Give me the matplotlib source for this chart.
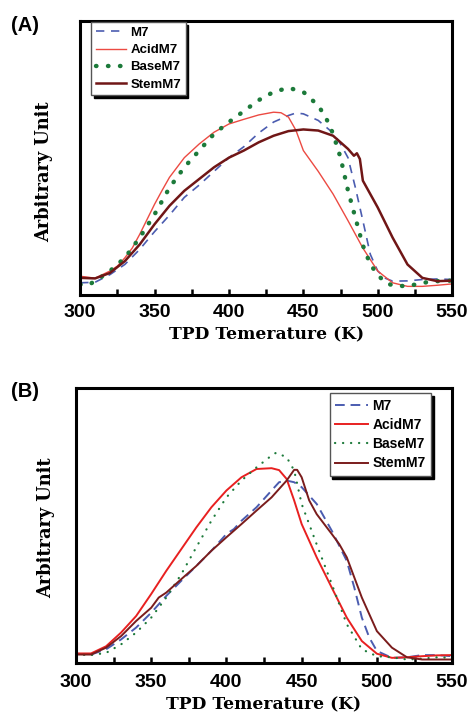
import numpy as np
import matplotlib.pyplot as plt

# panel A data (K, arbitrary)
tA_m7 = [300, 310, 320, 330, 340, 350, 360, 370, 380, 390, 400, 410, 420, 430, 440, 445, 450, 460, 470, 475, 480, 485, 490, 495, 500, 505, 510, 520, 530, 540, 550]
yA_m7 = [4.3, 4.5, 7.3, 11, 16.5, 23, 29, 35.5, 40, 45, 50, 54, 59, 63, 65.4, 66.3, 66, 63.6, 59, 55, 50, 39, 27, 14.7, 8.6, 6, 4.9, 5, 5.5, 5.7, 5.5]
tA_acid = [300, 310, 320, 325, 330, 335, 340, 345, 350, 355, 360, 370, 380, 390, 400, 410, 420, 430, 435, 440, 445, 450, 460, 470, 480, 490, 500, 510, 520, 530, 540, 550]
yA_acid = [6.7, 6, 8.6, 10.4, 13.4, 17, 22, 27.5, 33, 38, 42.8, 50, 55, 59.3, 62.3, 64, 65.6, 66.6, 66.4, 64.8, 60, 52.6, 45, 36.7, 27, 17, 8.6, 4.3, 3, 3, 3.4, 3.9]
tA_base = [300, 305, 310, 320, 330, 340, 350, 360, 370, 380, 390, 400, 410, 420, 430, 440, 450, 460, 465, 470, 475, 480, 485, 490, 495, 500, 505, 510, 520, 530, 540, 550]
yA_base = [3.7, 3.4, 4.9, 8.6, 13.4, 20.8, 29.3, 39, 46.5, 52.6, 58.7, 63, 67, 71, 74, 75.5, 74, 69, 64.8, 58.7, 50, 38, 28, 18, 11, 7.3, 4.3, 3.4, 3, 4.3, 4.9, 5.1]
tA_stem = [300, 310, 320, 330, 340, 350, 360, 370, 380, 390, 400, 410, 420, 430, 440, 450, 460, 470, 475, 480, 484, 486, 488, 490, 500, 510, 520, 530, 540, 550]
yA_stem = [6.1, 5.9, 7.9, 12.2, 18.3, 25.7, 32.4, 37.9, 42.2, 46.5, 50, 52.6, 55.6, 58, 59.7, 60.3, 59.9, 58, 55.6, 53.2, 50.7, 51.6, 49.5, 41.6, 31.8, 20.8, 11, 6.1, 4.9, 5.1]

# panel B data
tB_m7 = [300, 310, 320, 330, 340, 350, 360, 370, 380, 390, 400, 405, 410, 420, 430, 435, 440, 445, 450, 460, 470, 480, 485, 490, 495, 500, 510, 520, 530, 540, 550]
yB_m7 = [3.3, 3, 4.9, 8.5, 12.8, 18.2, 24.3, 29.8, 35.2, 40.7, 46.8, 48.6, 51.6, 56.5, 62.6, 65.6, 66.2, 65.6, 63.8, 57.7, 48, 37, 27.3, 16.4, 9.1, 4.3, 1.8, 2, 2.8, 2.8, 2.4]
tB_acid = [300, 310, 320, 330, 340, 350, 360, 370, 380, 390, 400, 410, 420, 430, 435, 440, 445, 450, 460, 470, 480, 490, 500, 510, 520, 530, 540, 550]
yB_acid = [3.4, 3.4, 6, 11, 17, 25, 33.4, 41.3, 49.2, 56.5, 62.6, 67.4, 70.4, 70.7, 70, 66.8, 59, 50.4, 38.3, 27.3, 16.4, 7.9, 3.3, 1.8, 2, 2.4, 2.7, 2.8]
tB_base = [300, 310, 320, 330, 340, 350, 360, 370, 380, 390, 400, 410, 420, 430, 433, 440, 445, 450, 460, 470, 480, 490, 500, 510, 520, 530, 540, 550]
yB_base = [3, 2.8, 3.6, 6.7, 11, 16.4, 23.7, 32.2, 42, 51.6, 60.1, 66.2, 71, 75.3, 76.3, 74.7, 69.9, 57.7, 43, 28.6, 14, 4.9, 2.4, 2, 1.2, 1.5, 2, 1.8]
tB_stem = [300, 310, 320, 330, 340, 350, 355, 360, 370, 380, 390, 400, 410, 420, 430, 440, 445, 447, 450, 455, 460, 470, 475, 480, 490, 500, 510, 520, 530, 540, 550]
yB_stem = [3, 3, 5.5, 9.7, 15.2, 20, 23.7, 25.5, 30.4, 35.2, 40.7, 45.6, 50.4, 55.3, 60.1, 66.2, 70.1, 70.1, 67.4, 59, 54, 46.8, 43.1, 38.3, 23.7, 11.5, 5.5, 2, 1.2, 1.2, 1.2]

xticks = [300, 350, 400, 450, 500, 550]
xlabel = "TPD Temerature (K)"
ylabel = "Arbitrary Unit"

fig = plt.figure(figsize=(4.69, 7.15), dpi=100)
axA = fig.add_axes([0.171, 0.588, 0.793, 0.383])
axB = fig.add_axes([0.162, 0.073, 0.802, 0.385])

axA.plot(tA_m7, yA_m7, color="#4b5cb0", lw=1.2, ls=(0, (5, 4)), label="M7")
axA.plot(tA_acid, yA_acid, color="#ec4a42", lw=1.0, label="AcidM7")
axA.plot(tA_base, yA_base, color="#1c7a3a", lw=3.2, ls=(0, (0.1, 2.6)),
         dash_capstyle="round", label="BaseM7")
axA.plot(tA_stem, yA_stem, color="#701616", lw=1.8, label="StemM7")

axB.plot(tB_m7, yB_m7, color="#4b5cb0", lw=1.4, ls=(0, (5, 3)), label="M7")
axB.plot(tB_acid, yB_acid, color="#e82020", lw=1.4, label="AcidM7")
axB.plot(tB_base, yB_base, color="#1c7a3a", lw=1.6, ls=(0, (0.1, 3.5)),
         dash_capstyle="round", label="BaseM7")
axB.plot(tB_stem, yB_stem, color="#7a1c1c", lw=1.4, label="StemM7")

for ax, tpad, ylx, yly in ((axA, 6.5, -0.073, 0.45), (axB, 8, -0.056, 0.49)):
    ax.set_xlim(300, 550)
    ax.set_ylim(0, 100)
    ax.set_yticks([])
    ax.set_xticks(xticks)
    ax.set_xticks(np.arange(325, 550, 50), minor=True)
    ax.tick_params(axis="x", which="both", direction="in", width=1.8)
    ax.tick_params(axis="x", which="major", length=4, pad=tpad, labelsize=14)
    ax.tick_params(axis="x", which="minor", length=4)
    for lab in ax.get_xticklabels():
        lab.set_fontweight("bold")
        lab.set_family("Liberation Sans")
    for sp in ax.spines.values():
        sp.set_linewidth(2.2)
    ax.set_xlabel(xlabel, family="DejaVu Serif", fontweight="bold", fontsize=12.3, labelpad=4)
    ax.set_ylabel(ylabel, family="DejaVu Serif", fontweight="bold", fontsize=12.8)
    ax.yaxis.set_label_coords(ylx, yly)

legA = axA.legend(loc="upper left", bbox_to_anchor=(0.03, 0.995), borderaxespad=0,
                  fancybox=False, edgecolor="#555555", shadow={"color": "black", "alpha": 1},
                  prop={"family": "Liberation Sans", "weight": "bold", "size": 9.5},
                  handlelength=2.3, handletextpad=0.3, labelspacing=0.38, borderpad=0.35)
legA.get_frame().set_linewidth(1.0)
legB = axB.legend(loc="upper right", bbox_to_anchor=(0.945, 0.98), borderaxespad=0,
                  fancybox=False, edgecolor="#555555", shadow={"color": "black", "alpha": 1},
                  prop={"family": "Liberation Sans", "weight": "bold", "size": 10},
                  handlelength=2.4, handletextpad=0.3, labelspacing=0.38, borderpad=0.4)
legB.get_frame().set_linewidth(1.0)

fig.text(0.024, 0.965, "(A)", family="Liberation Sans", fontweight="bold", fontsize=14.5, va="center")
fig.text(0.024, 0.452, "(B)", family="Liberation Sans", fontweight="bold", fontsize=14.5, va="center")

fig.savefig("out.png", dpi=100)
